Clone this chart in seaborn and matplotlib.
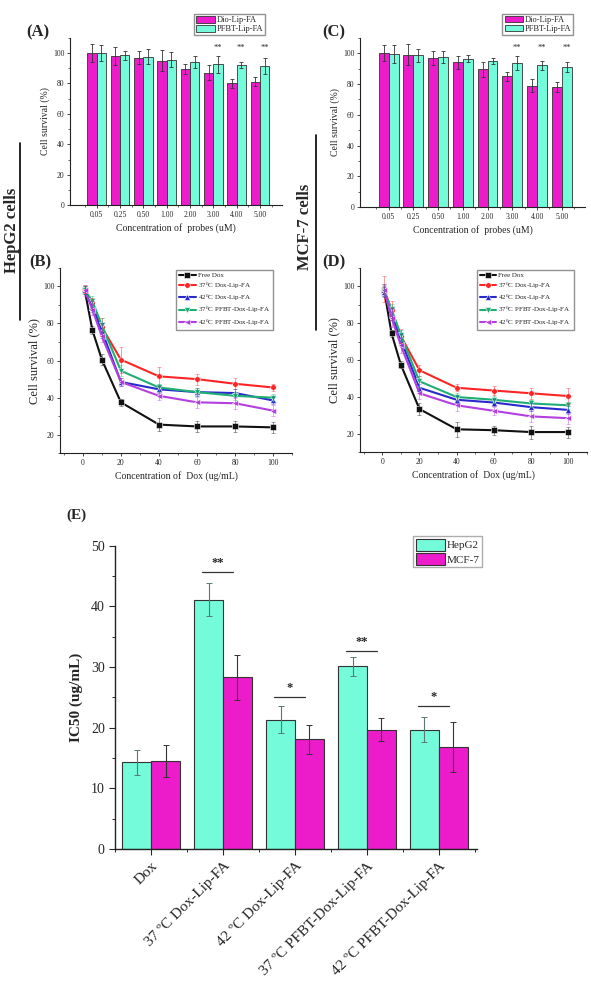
import matplotlib
matplotlib.use('Agg')
import matplotlib.pyplot as plt
from matplotlib.ticker import MultipleLocator
import seaborn as sns
import pandas as pd
import numpy as np

sns.set_style('ticks')
plt.rcParams['font.family'] = ['Liberation Serif', 'DejaVu Serif']
plt.rcParams['mathtext.fontset'] = 'stix'

# panel A / C : probe toxicity
probe_conc = ['0.05', '0.25', '0.50', '1.00', '2.00', '3.00', '4.00', '5.00']
probe_series = ['Dio-Lip-FA', 'PFBT-Lip-FA']
a_dio = [100, 98, 97, 95, 89.5, 87, 80, 81]
a_dio_err = [6, 6, 4, 7, 3, 5, 3, 3]
a_pfbt = [100, 98.5, 97.5, 95.5, 94, 92.5, 92, 91.5]
a_pfbt_err = [5, 3, 5, 5, 4, 5.5, 2, 5]
c_dio = [100, 99, 97, 94, 89.5, 85, 79, 78]
c_dio_err = [5, 7, 4.5, 4, 5, 3, 4.5, 3.5]
c_pfbt = [99.5, 98.5, 97.5, 96.5, 95, 93.5, 92, 91]
c_pfbt_err = [6, 4, 4, 2, 2, 4.5, 3, 3.5]
star_groups = ['3.00', '4.00', '5.00']

# panel B / D : dox curves
dox_conc = [1, 5, 10, 20, 40, 60, 80, 100]
dox_series = ['Free Dox', '37$^{0}$C Dox-Lip-FA', '42$^{0}$C Dox-Lip-FA',
              '37$^{0}$C PFBT-Dox-Lip-FA', '42$^{0}$C PFBT-Dox-Lip-FA']
b_vals = [
    [98, 76.5, 60.5, 37.5, 25.5, 24.5, 24.5, 24],
    [98.5, 91, 78, 60.5, 51.5, 50, 47.5, 45.5],
    [98, 89, 76, 48.5, 44.5, 43, 42.5, 38.5],
    [98, 92, 79, 54.5, 45.5, 43, 41, 40],
    [98, 87.5, 73, 48.5, 41, 37.5, 37, 33],
]
b_errs = [
    [2, 2, 3, 2, 3.5, 3, 3, 3],
    [2, 3, 5, 7, 5, 3, 3, 2],
    [2, 3, 4, 2, 2, 2, 2, 2],
    [2, 3, 4, 3, 2, 2, 2, 2],
    [3, 3, 3, 2, 2, 3, 3, 3],
]
d_vals = [
    [98, 74.5, 57.5, 33.5, 22.5, 22, 21, 21],
    [98.5, 87, 73, 54.5, 45, 43.5, 42, 40.5],
    [97, 85, 71, 45, 38.5, 37, 34.5, 33],
    [97.5, 87.5, 73.5, 48.5, 40, 38.5, 36.5, 35.5],
    [98, 83, 68, 42, 35.5, 32.5, 29.5, 28.5],
]
d_errs = [
    [3, 2, 2, 3, 4, 2.5, 3.5, 3],
    [7, 5, 4, 3, 2, 2.5, 3, 4.5],
    [3, 3, 3, 2, 2, 2, 2, 2],
    [3, 3, 3, 3, 2, 2, 2, 2],
    [3, 5, 4, 3, 3, 2, 3, 3],
]

# panel E : IC50
ic50_groups = ['Dox', '37 ºC Dox-Lip-FA', '42 ºC Dox-Lip-FA',
               '37 ºC PFBT-Dox-Lip-FA', '42 ºC PFBT-Dox-Lip-FA']
ic50_cells = ['HepG2', 'MCF-7']
ic50_hepg2 = [14.3, 41.1, 21.3, 30.1, 19.7]
ic50_hepg2_err = [2.1, 2.7, 2.2, 1.5, 2.1]
ic50_mcf7 = [14.5, 28.3, 18.1, 19.7, 16.8]
ic50_mcf7_err = [2.6, 3.7, 2.4, 1.9, 4.1]
sig_labels = ['', '**', '*', '**', '*']
sig_heights = [0, 45.6, 25.0, 32.6, 23.6]

MAG = '#EC1CCB'
AQUA = '#74FCDA'
line_colors = ['#111111', '#FF2424', '#2A2ACC', '#1FAE74', '#B43FE0']
line_markers = ['s', 'o', '^', 'v', '<']

fig = plt.figure(figsize=(5.91, 9.92), dpi=100)


def style_axes(ax, lw=0.8):
    sns.despine(ax=ax)
    for s in ['left', 'bottom']:
        ax.spines[s].set_linewidth(lw)
        ax.spines[s].set_color('#222222')


def probe_panel(rect, dio, dio_err, pfbt, pfbt_err, leg_anchor):
    ax = fig.add_axes(rect)
    df = pd.DataFrame({
        'conc': probe_conc * 2,
        'probe': [probe_series[0]] * 8 + [probe_series[1]] * 8,
        'val': dio + pfbt,
    })
    sns.barplot(data=df, x='conc', y='val', hue='probe', palette=[MAG, AQUA],
                errorbar=None, width=0.8, edgecolor='#333333', linewidth=0.6,
                saturation=1, ax=ax)
    for cont, err in zip(ax.containers, [dio_err, pfbt_err]):
        xs = [p.get_x() + p.get_width() / 2 for p in cont]
        hs = [p.get_height() for p in cont]
        ax.errorbar(xs, hs, yerr=err, fmt='none', ecolor='#333333',
                    elinewidth=0.6, capsize=1.5, capthick=0.6)
    pf = ax.containers[1]
    for g in star_groups:
        i = probe_conc.index(g)
        p = pf[i]
        ax.text(p.get_x() + p.get_width() / 2, 100.5, '**', ha='center',
                va='bottom', fontsize=6)
    ax.set_xlim(-1.16, 7.94)
    ax.set_ylim(0, 110)
    ax.yaxis.set_major_locator(MultipleLocator(20))
    ax.yaxis.set_minor_locator(MultipleLocator(10))
    ax.set_xticks(np.arange(-0.5, 8, 1), minor=True)
    ax.tick_params(axis='both', which='major', labelsize=5.5, length=2.5, width=0.6, pad=1.5)
    ax.tick_params(axis='both', which='minor', length=1.5, width=0.5)
    ax.set_xlabel('Concentration of  probes (uM)', fontsize=7, labelpad=3)
    ax.set_ylabel('Cell survival (%)', fontsize=7, labelpad=2)
    style_axes(ax)
    h, l = ax.get_legend_handles_labels()
    ax.legend(h, l, loc='upper right', bbox_to_anchor=leg_anchor, fontsize=6,
              frameon=True, fancybox=False, edgecolor='#777777',
              handlelength=2.2, handleheight=0.8, handletextpad=0.2,
              borderpad=0.25, labelspacing=0.1, borderaxespad=0)
    return ax


def dox_panel(rect, vals, errs, leg_anchor):
    ax = fig.add_axes(rect)
    rows = []
    for name, v in zip(dox_series, vals):
        for x, y in zip(dox_conc, v):
            rows.append({'dox': x, 'surv': y, 'grp': name})
    df = pd.DataFrame(rows)
    sns.lineplot(data=df, x='dox', y='surv', hue='grp', style='grp',
                 palette=line_colors, markers=line_markers, dashes=False,
                 markersize=4, linewidth=1.5, markeredgewidth=0.4, ax=ax)
    for name, v, e, c in zip(dox_series, vals, errs, line_colors):
        ax.errorbar(dox_conc, v, yerr=e, fmt='none', ecolor=c, alpha=0.45,
                    elinewidth=0.7, capsize=1.5, capthick=0.6)
    ax.set_xlim(-12, 110)
    ax.set_ylim(10, 110)
    ax.xaxis.set_major_locator(MultipleLocator(20))
    ax.xaxis.set_minor_locator(MultipleLocator(10))
    ax.yaxis.set_major_locator(MultipleLocator(20))
    ax.yaxis.set_minor_locator(MultipleLocator(10))
    ax.tick_params(axis='both', which='major', labelsize=5.5, length=2.5, width=0.6, pad=1.5)
    ax.tick_params(axis='both', which='minor', length=1.5, width=0.5)
    ax.set_xlabel('Concentration of  Dox (ug/mL)', fontsize=7, labelpad=3)
    ax.set_ylabel('Cell survival (%)', fontsize=9, labelpad=2)
    style_axes(ax)
    h, l = ax.get_legend_handles_labels()
    ax.legend(h, l, loc='upper right', bbox_to_anchor=leg_anchor, fontsize=5,
              frameon=True, fancybox=False, edgecolor='#777777',
              handlelength=2.4, handletextpad=0.3, borderpad=0.4,
              labelspacing=0.25, borderaxespad=0)
    return ax


probe_panel([0.118, 0.793, 0.359, 0.169], a_dio, a_dio_err, a_pfbt, a_pfbt_err, (0.92, 1.14))
probe_panel([0.609, 0.791, 0.381, 0.171], c_dio, c_dio_err, c_pfbt, c_pfbt_err, (0.947, 1.14))
dox_panel([0.1015, 0.543, 0.393, 0.187], b_vals, b_errs, (0.918, 0.99))
dox_panel([0.609, 0.544, 0.384, 0.186], d_vals, d_errs, (0.943, 0.99))

# panel E
axE = fig.add_axes([0.195, 0.144, 0.612, 0.306])
dfE = pd.DataFrame({
    'group': ic50_groups * 2,
    'cell': [ic50_cells[0]] * 5 + [ic50_cells[1]] * 5,
    'ic50': ic50_hepg2 + ic50_mcf7,
})
sns.barplot(data=dfE, x='group', y='ic50', hue='cell', palette=[AQUA, MAG],
            errorbar=None, width=0.8, edgecolor='#333333', linewidth=0.8,
            saturation=1, ax=axE)
for cont, err, ec in zip(axE.containers, [ic50_hepg2_err, ic50_mcf7_err], ['#5a7a70', '#333333']):
    xs = [p.get_x() + p.get_width() / 2 for p in cont]
    hs = [p.get_height() for p in cont]
    axE.errorbar(xs, hs, yerr=err, fmt='none', ecolor=ec, elinewidth=0.8,
                 capsize=2.5, capthick=0.7)
for i, (lab, hgt) in enumerate(zip(sig_labels, sig_heights)):
    if not lab:
        continue
    axE.plot([i - 0.29, i + 0.14], [hgt, hgt], color='#333333', lw=0.9)
    axE.text(i - 0.07, hgt + 0.5, lab, ha='center', va='bottom', fontsize=9, fontweight='bold')
axE.set_xlim(-0.5, 4.53)
axE.set_ylim(0, 50)
axE.yaxis.set_major_locator(MultipleLocator(10))
axE.yaxis.set_minor_locator(MultipleLocator(5))
axE.set_xticks(np.arange(-0.5, 5, 1), minor=True)
axE.tick_params(axis='y', which='major', labelsize=10, length=4, width=0.8)
axE.tick_params(axis='x', which='major', labelsize=11, length=4, width=0.8)
axE.tick_params(axis='both', which='minor', length=2.5, width=0.7)
plt.setp(axE.get_xticklabels(), rotation=45, ha='right', rotation_mode='anchor')
axE.set_xlabel('')
axE.set_ylabel('IC50 (ug/mL)', fontsize=11, fontweight='bold', labelpad=6)
style_axes(axE, lw=1.0)
h, l = axE.get_legend_handles_labels()
axE.legend(h, l, loc='upper right', bbox_to_anchor=(1.014, 1.03), fontsize=8,
           frameon=True, fancybox=False, edgecolor='#999999',
           handlelength=2.6, handleheight=1.3, handletextpad=0.2,
           borderpad=0.2, labelspacing=0.2, borderaxespad=0)

# panel letters
for lab, x, y in [('(A)', 0.045, 0.967), ('(C)', 0.545, 0.967),
                  ('(B)', 0.05, 0.735), ('(D)', 0.546, 0.735),
                  ('(E)', 0.112, 0.481)]:
    fig.text(x, y, lab, fontsize=12 if lab != '(E)' else 11, fontweight='bold', va='center')

# cell line side labels
fig.text(0.020, 0.768, 'HepG2 cells', rotation=90, fontsize=12, fontweight='bold',
         ha='center', va='center')
fig.add_artist(plt.Line2D([0.034, 0.034], [1 - 320 / 992, 1 - 143 / 992], color='black', lw=1.2))
fig.text(0.516, 0.771, 'MCF-7 cells', rotation=90, fontsize=12, fontweight='bold',
         ha='center', va='center')
fig.add_artist(plt.Line2D([0.535, 0.535], [1 - 330 / 992, 1 - 135 / 992], color='black', lw=1.2))

fig.savefig('out.png', dpi=100)
